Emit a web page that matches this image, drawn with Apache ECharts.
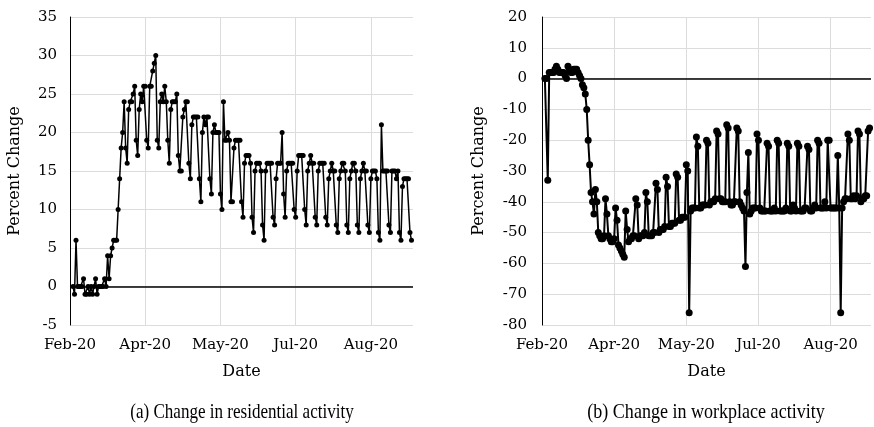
<!DOCTYPE html>
<html><head><meta charset="utf-8">
<script src="https://cdn.jsdelivr.net/npm/echarts@6/dist/echarts.min.js"></script>
<style>html,body{margin:0;padding:0;background:#fff}#c{width:874px;height:427px}</style>
</head><body><div id="c"></div>
<script>
// ---- data ----
const firstDate = '2020-02-15';      // first daily observation
const axisStartDate = '2020-02-13';  // x-axis minimum
const axisEndDate = '2020-09-28';    // x-axis maximum
const tickIntervalDays = 50;
const xTickLabels = ['Feb-20', 'Apr-20', 'May-20', 'Jul-20', 'Aug-20'];
const xTitle = 'Date';
const yTitle = 'Percent Change';
const captions = ['(a) Change in residential activity', '(b) Change in workplace activity'];

const residential = [
  0, -1, 6, 0, 0, 0, 0,
  1, -1, -1, 0, -1, 0, -1,
  0, 1, -1, 0, 0, 0, 0,
  1, 0, 4, 1, 4, 5, 6,
  6, 6, 10, 14, 18, 20, 24,
  18, 16, 23, 24, 24, 25, 26,
  19, 17, 23, 25, 24, 26, 26,
  19, 18, 26, 26, 28, 29, 30,
  19, 18, 24, 25, 24, 26, 24,
  19, 16, 23, 24, 24, 24, 25,
  17, 15, 15, 22, 23, 24, 24,
  16, 14, 21, 22, 22, 22, 22,
  14, 11, 20, 22, 21, 22, 22,
  14, 12, 20, 21, 20, 20, 20,
  12, 10, 24, 19, 19, 20, 19,
  11, 11, 18, 19, 19, 19, 19,
  11, 9, 16, 17, 17, 17, 16,
  9, 7, 15, 16, 16, 16, 15,
  8, 6, 15, 16, 16, 16, 16,
  9, 8, 14, 16, 16, 16, 20,
  12, 9, 15, 16, 16, 16, 16,
  10, 9, 15, 17, 17, 17, 17,
  10, 8, 15, 16, 17, 16, 16,
  9, 8, 15, 16, 16, 16, 16,
  9, 8, 14, 15, 16, 15, 15,
  8, 7, 14, 15, 16, 16, 15,
  8, 7, 14, 15, 16, 16, 15,
  8, 7, 14, 15, 16, 15, 15,
  8, 7, 14, 15, 15, 15, 14,
  7, 6, 21, 15, 15, 15, 15,
  8, 7, 15, 15, 15, 14, 15,
  7, 6, 13, 14, 14, 14, 14,
  7, 6
];

const workplace = [
  0, 0, -33, 2, 2, 2, 2,
  3, 4, 3, 2, 2, 2, 2,
  1, 0, 4, 3, 2, 2, 3,
  3, 3, 2, 1, 0, -2, -3,
  -5, -10, -20, -28, -37, -40, -44,
  -36, -40, -50, -51, -52, -52, -51,
  -39, -44, -51, -52, -53, -53, -52,
  -42, -46, -54, -55, -56, -57, -58,
  -43, -49, -53, -52, -52, -51, -51,
  -39, -41, -52, -51, -51, -51, -50,
  -37, -40, -51, -51, -51, -50, -50,
  -34, -36, -50, -49, -49, -49, -48,
  -32, -35, -48, -48, -47, -47, -47,
  -31, -32, -46, -46, -45, -45, -45,
  -28, -30, -76, -43, -42, -42, -42,
  -19, -22, -42, -42, -41, -41, -41,
  -20, -21, -41, -40, -40, -40, -39,
  -17, -18, -39, -39, -40, -40, -40,
  -15, -16, -40, -41, -41, -40, -40,
  -16, -17, -40, -41, -42, -43, -61,
  -37, -24, -44, -43, -42, -42, -42,
  -18, -20, -42, -43, -43, -43, -43,
  -21, -22, -43, -43, -43, -42, -43,
  -20, -21, -43, -43, -43, -43, -42,
  -21, -22, -43, -43, -41, -42, -43,
  -21, -22, -43, -43, -43, -42, -42,
  -22, -23, -43, -43, -42, -41, -42,
  -20, -21, -42, -42, -42, -40, -42,
  -20, -20, -42, -42, -42, -42, -42,
  -25, -42, -76, -42, -40, -39, -39,
  -18, -20, -39, -39, -38, -39, -38,
  -17, -18, -40, -39, -39, -38, -38,
  -17, -16
];

const leftYRange = { min: -5, max: 35, step: 5 };
const rightYRange = { min: -80, max: 20, step: 10 };

// ---- build ----
const DAY = 86400000;
const offset = (Date.parse(firstDate) - Date.parse(axisStartDate)) / DAY;
const axisMax = (Date.parse(axisEndDate) - Date.parse(axisStartDate)) / DAY;
const toPairs = arr => arr.map((v, i) => [i + offset, v]);

const FONT = 'DejaVu Serif';
const gridColor = '#dcdcdc';

function xAxis(gi) {
  return {
    type: 'value', gridIndex: gi, min: 0, max: axisMax, interval: tickIntervalDays,
    axisLine: { show: false }, axisTick: { show: false },
    axisLabel: {
      margin: 13, fontFamily: FONT, fontSize: 15, color: '#000',
      formatter: v => { const k = v / tickIntervalDays; return Number.isInteger(k) && xTickLabels[k] ? xTickLabels[k] : ''; }
    },
    splitLine: { show: true, showMaxLine: false, lineStyle: { color: gridColor, width: 1 } },
    name: xTitle, nameLocation: 'middle', nameGap: 39,
    nameTextStyle: { fontFamily: FONT, fontSize: 16, color: '#000' }
  };
}
function yAxis(gi, r, gap, lm) {
  return {
    type: 'value', gridIndex: gi, min: r.min, max: r.max, interval: r.step,
    axisLine: { show: true, onZero: false, lineStyle: { color: '#000', width: 1 } },
    axisTick: { show: false },
    axisLabel: { margin: lm, fontFamily: FONT, fontSize: 15, color: '#000' },
    splitLine: { show: true, lineStyle: { color: gridColor, width: 1 } },
    name: yTitle, nameLocation: 'middle', nameGap: gap, nameRotate: 90,
    nameTextStyle: { fontFamily: FONT, fontSize: 16, color: '#000' }
  };
}
function series(gi, arr, size, lw) {
  return {
    type: 'line', xAxisIndex: gi, yAxisIndex: gi, data: toPairs(arr),
    symbol: 'circle', symbolSize: size, showAllSymbol: true,
    lineStyle: { color: '#000', width: lw }, itemStyle: { color: '#000' },
    emphasis: { disabled: true },
    markLine: {
      silent: true, symbol: 'none', label: { show: false },
      lineStyle: { color: '#000', width: 1.5, type: 'solid' },
      data: [{ yAxis: 0 }]
    }
  };
}
function caption(text, cx, cy, sx) {
  return {
    type: 'text', x: cx, y: cy, scaleX: sx, scaleY: 1,
    style: {
      text: text, fontFamily: 'Liberation Serif', fontSize: 22, fill: '#000',
      align: 'center', verticalAlign: 'middle', textAlign: 'center', textVerticalAlign: 'middle'
    }
  };
}

const chart = echarts.init(document.getElementById('c'), null, { renderer: 'canvas' });
chart.setOption({
  animation: false,
  backgroundColor: '#fff',
  grid: [
    { left: 70, top: 17, width: 343, height: 308 },
    { left: 542, top: 17, width: 330, height: 308 }
  ],
  xAxis: [xAxis(0), xAxis(1)],
  yAxis: [yAxis(0, leftYRange, 47, 13), yAxis(1, rightYRange, 55, 15)],
  series: [series(0, residential, 5, 1.5), series(1, workplace, 7, 2)],
  graphic: [caption(captions[0], 242, 412, 0.775), caption(captions[1], 706, 412, 0.82)]
});
</script></body></html>
